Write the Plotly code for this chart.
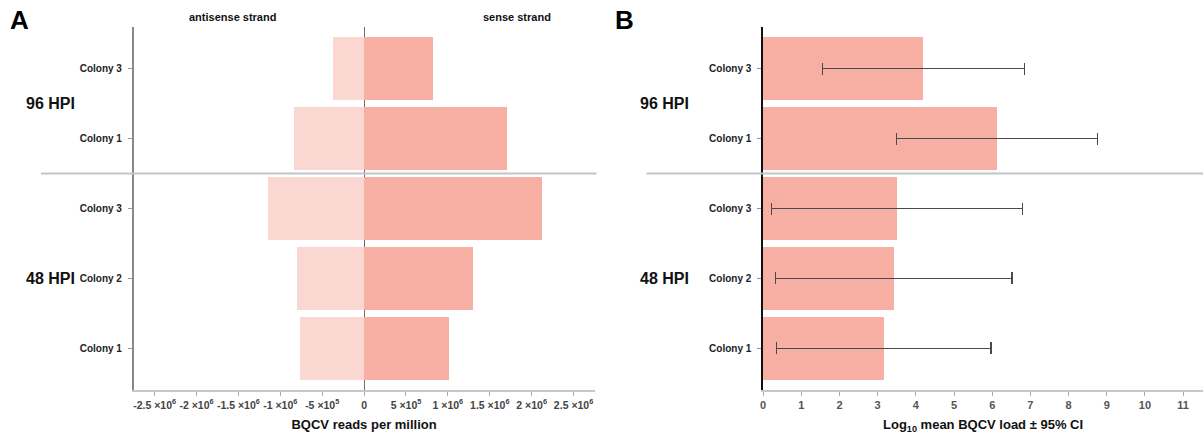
import plotly.graph_objects as go

# ---- data ----
groups = ["48 HPI", "48 HPI", "48 HPI", "96 HPI", "96 HPI"]
colonies = ["Colony 1", "Colony 2", "Colony 3", "Colony 1", "Colony 3"]
sense_reads = [1.01e6, 1.30e6, 2.12e6, 1.70e6, 8.15e5]
antisense_reads = [-7.7e5, -8.0e5, -1.155e6, -8.4e5, -3.75e5]
log_load = [3.16, 3.42, 3.51, 6.12, 4.20]
ci_half = [2.81, 3.10, 3.29, 2.63, 2.64]

left_tickvals = [-2.5e6, -2e6, -1.5e6, -1e6, -5e5, 0, 5e5, 1e6, 1.5e6, 2e6, 2.5e6]
left_ticktext = ["-2.5 ×10<sup>6</sup>", "-2 ×10<sup>6</sup>", "-1.5 ×10<sup>6</sup>",
                 "-1 ×10<sup>6</sup>", "-5 ×10<sup>5</sup>", "0", "5 ×10<sup>5</sup>",
                 "1 ×10<sup>6</sup>", "1.5 ×10<sup>6</sup>", "2 ×10<sup>6</sup>",
                 "2.5 ×10<sup>6</sup>"]
right_tickvals = list(range(0, 12))

cats = [f"{g}|{c}" for g, c in zip(groups, colonies)]

SENSE = "#F7AFA4"
ANTI = "#FAD7D1"
FONT = "Liberation Sans"
W, H = 1203, 436

fig = go.Figure()
fig.add_trace(go.Bar(y=cats, x=antisense_reads, orientation="h", marker_color=ANTI,
                     marker_line_width=0, width=0.9, xaxis="x", yaxis="y",
                     name="antisense strand", showlegend=False))
fig.add_trace(go.Bar(y=cats, x=sense_reads, orientation="h", marker_color=SENSE,
                     marker_line_width=0, width=0.9, xaxis="x", yaxis="y",
                     name="sense strand", showlegend=False))
fig.add_trace(go.Bar(y=cats, x=log_load, orientation="h", marker_color=SENSE,
                     marker_line_width=0, width=0.9, xaxis="x2", yaxis="y2",
                     error_x=dict(type="data", array=ci_half, symmetric=True,
                                  color="#4a4a4a", thickness=1.2, width=6),
                     showlegend=False))

ydom = [1 - 390 / H, 1 - 27 / H]
tickfont = dict(family=FONT, size=10, color="#222", weight="bold")
xtickfont = dict(family=FONT, size=10.5, color="#444", weight="bold")
ycommon = dict(type="category", categoryarray=cats, tickvals=cats, ticktext=colonies,
               range=[-0.6, 4.6], domain=ydom, ticks="outside", ticklen=4,
               tickcolor="#999", tickfont=tickfont, showgrid=False, zeroline=False,
               ticklabelstandoff=4, fixedrange=True)

fig.update_layout(
    width=W, height=H, margin=dict(l=0, r=0, t=0, b=0),
    paper_bgcolor="white", plot_bgcolor="white",
    barmode="overlay", bargap=0,
    xaxis=dict(domain=[131 / W, 593 / W], range=[-2.75e6, 2.75e6],
               tickvals=left_tickvals, ticktext=left_ticktext, tickfont=xtickfont,
               ticks="outside", ticklen=4, tickcolor="#aaa",
               showline=True, linecolor="#c8c8c8", linewidth=2,
               showgrid=False, zeroline=True, zerolinecolor="#6e6e6e", zerolinewidth=1.2,
               layer="above traces", anchor="y",
               title=dict(text="BQCV reads per million", standoff=10,
                          font=dict(family=FONT, size=13, color="#111", weight="bold"))),
    yaxis=dict(**ycommon, anchor="x", showline=True, linecolor="#888", linewidth=1.5),
    xaxis2=dict(domain=[762 / W, 1.0], range=[0, 11.52], tickvals=right_tickvals,
                tickfont=dict(family=FONT, size=11, color="#555", weight="bold"),
                ticks="outside", ticklen=4, tickcolor="#aaa",
                showline=True, linecolor="#c8c8c8", linewidth=2,
                showgrid=False, zeroline=False, anchor="y2",
                title=dict(text="Log<sub>10</sub> mean BQCV load ± 95% CI", standoff=10,
                           font=dict(family=FONT, size=13, color="#111", weight="bold"))),
    yaxis2=dict(**ycommon, anchor="x2", showline=True, linecolor="#111", linewidth=1.5),
)

# separators between 96 HPI and 48 HPI
fig.add_shape(type="line", xref="paper", yref="y", x0=38 / W, x1=595 / W, y0=2.5, y1=2.5,
              line=dict(color="#c4c4c8", width=2))
fig.add_shape(type="line", xref="paper", yref="y2", x0=645 / W, x1=1.0, y0=2.5, y1=2.5,
              line=dict(color="#c4c4c8", width=2))

ann = []
gfont = dict(family=FONT, size=16, color="#111", weight="bold")
for yref, xp in (("y", 21 / W), ("y2", 637 / W)):
    ann.append(dict(text="96 HPI", xref="paper", yref=yref, x=xp, y=3.5, xanchor="left",
                    yanchor="middle", showarrow=False, font=gfont))
    ann.append(dict(text="48 HPI", xref="paper", yref=yref, x=xp, y=1, xanchor="left",
                    yanchor="middle", showarrow=False, font=gfont))
sfont = dict(family=FONT, size=11, color="#111", weight="bold")
ann.append(dict(text="antisense strand", xref="paper", yref="paper", x=230 / W, y=1 - 17 / H,
                xanchor="center", yanchor="middle", showarrow=False, font=sfont))
ann.append(dict(text="sense strand", xref="paper", yref="paper", x=515 / W, y=1 - 17 / H,
                xanchor="center", yanchor="middle", showarrow=False, font=sfont))
pfont = dict(family=FONT, size=26, color="#000", weight="bold")
ann.append(dict(text="A", xref="paper", yref="paper", x=5 / W, y=1 - 20 / H,
                xanchor="left", yanchor="middle", showarrow=False, font=pfont))
ann.append(dict(text="B", xref="paper", yref="paper", x=612 / W, y=1 - 20 / H,
                xanchor="left", yanchor="middle", showarrow=False, font=pfont))
fig.update_layout(annotations=ann)

fig.write_html("out.html")
